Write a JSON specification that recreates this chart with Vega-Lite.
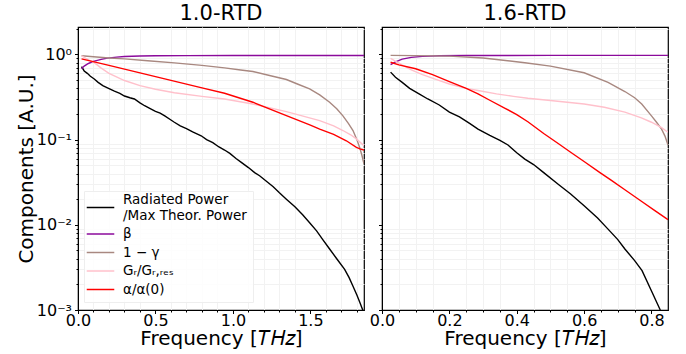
{
  "$schema": "https://vega.github.io/schema/vega-lite/v6.json",
  "padding": {"left": 15, "top": 2, "right": 5, "bottom": 0},
  "spacing": 18,
  "bounds": "flush",
  "datasets": {
    "d": [
      {"p":"L","s":"P","f":0.023,"v":0.72},{"p":"L","s":"P","f":0.04,"v":0.64},{"p":"L","s":"P","f":0.06,"v":0.6},{"p":"L","s":"P","f":0.08,"v":0.555},{"p":"L","s":"P","f":0.105,"v":0.515},{"p":"L","s":"P","f":0.13,"v":0.47},{"p":"L","s":"P","f":0.16,"v":0.43},{"p":"L","s":"P","f":0.19,"v":0.405},{"p":"L","s":"P","f":0.235,"v":0.37},{"p":"L","s":"P","f":0.27,"v":0.35},{"p":"L","s":"P","f":0.3,"v":0.325},{"p":"L","s":"P","f":0.335,"v":0.31},{"p":"L","s":"P","f":0.364,"v":0.3},{"p":"L","s":"P","f":0.4,"v":0.27},{"p":"L","s":"P","f":0.43,"v":0.25},{"p":"L","s":"P","f":0.46,"v":0.235},{"p":"L","s":"P","f":0.5,"v":0.215},{"p":"L","s":"P","f":0.53,"v":0.205},{"p":"L","s":"P","f":0.56,"v":0.19},{"p":"L","s":"P","f":0.6,"v":0.17},{"p":"L","s":"P","f":0.622,"v":0.16},{"p":"L","s":"P","f":0.66,"v":0.145},{"p":"L","s":"P","f":0.7,"v":0.135},{"p":"L","s":"P","f":0.74,"v":0.123},{"p":"L","s":"P","f":0.795,"v":0.111},{"p":"L","s":"P","f":0.83,"v":0.1},{"p":"L","s":"P","f":0.87,"v":0.092},{"p":"L","s":"P","f":0.91,"v":0.082},{"p":"L","s":"P","f":0.946,"v":0.0755},{"p":"L","s":"P","f":0.98,"v":0.069},{"p":"L","s":"P","f":1.02,"v":0.06},{"p":"L","s":"P","f":1.054,"v":0.054},{"p":"L","s":"P","f":1.1,"v":0.047},{"p":"L","s":"P","f":1.14,"v":0.041},{"p":"L","s":"P","f":1.172,"v":0.0377},{"p":"L","s":"P","f":1.22,"v":0.032},{"p":"L","s":"P","f":1.26,"v":0.028},{"p":"L","s":"P","f":1.3,"v":0.0238},{"p":"L","s":"P","f":1.345,"v":0.02},{"p":"L","s":"P","f":1.4,"v":0.0163},{"p":"L","s":"P","f":1.45,"v":0.0131},{"p":"L","s":"P","f":1.495,"v":0.0106},{"p":"L","s":"P","f":1.54,"v":0.0085},{"p":"L","s":"P","f":1.58,"v":0.0067},{"p":"L","s":"P","f":1.624,"v":0.0052},{"p":"L","s":"P","f":1.67,"v":0.004},{"p":"L","s":"P","f":1.721,"v":0.003},{"p":"L","s":"P","f":1.75,"v":0.0024},{"p":"L","s":"P","f":1.775,"v":0.0019},{"p":"L","s":"P","f":1.8,"v":0.0015},{"p":"L","s":"P","f":1.82,"v":0.00122},{"p":"L","s":"P","f":1.836,"v":0.00102},{"p":"L","s":"P","f":1.845,"v":0.00092},
      {"p":"L","s":"b","f":0.023,"v":0.68},{"p":"L","s":"b","f":0.04,"v":0.73},{"p":"L","s":"b","f":0.062,"v":0.776},{"p":"L","s":"b","f":0.085,"v":0.81},{"p":"L","s":"b","f":0.105,"v":0.835},{"p":"L","s":"b","f":0.15,"v":0.875},{"p":"L","s":"b","f":0.19,"v":0.905},{"p":"L","s":"b","f":0.25,"v":0.93},{"p":"L","s":"b","f":0.3,"v":0.945},{"p":"L","s":"b","f":0.4,"v":0.958},{"p":"L","s":"b","f":0.5,"v":0.965},{"p":"L","s":"b","f":0.7,"v":0.97},{"p":"L","s":"b","f":1.0,"v":0.972},{"p":"L","s":"b","f":1.5,"v":0.973},{"p":"L","s":"b","f":1.85,"v":0.973},
      {"p":"L","s":"g","f":0.023,"v":0.965},{"p":"L","s":"g","f":0.1,"v":0.94},{"p":"L","s":"g","f":0.2,"v":0.91},{"p":"L","s":"g","f":0.3,"v":0.887},{"p":"L","s":"g","f":0.45,"v":0.845},{"p":"L","s":"g","f":0.622,"v":0.796},{"p":"L","s":"g","f":0.8,"v":0.745},{"p":"L","s":"g","f":0.946,"v":0.695},{"p":"L","s":"g","f":1.05,"v":0.658},{"p":"L","s":"g","f":1.129,"v":0.63},{"p":"L","s":"g","f":1.25,"v":0.558},{"p":"L","s":"g","f":1.345,"v":0.508},{"p":"L","s":"g","f":1.42,"v":0.447},{"p":"L","s":"g","f":1.495,"v":0.394},{"p":"L","s":"g","f":1.56,"v":0.335},{"p":"L","s":"g","f":1.624,"v":0.275},{"p":"L","s":"g","f":1.67,"v":0.23},{"p":"L","s":"g","f":1.71,"v":0.19},{"p":"L","s":"g","f":1.745,"v":0.155},{"p":"L","s":"g","f":1.775,"v":0.128},{"p":"L","s":"g","f":1.8,"v":0.1},{"p":"L","s":"g","f":1.818,"v":0.081},{"p":"L","s":"g","f":1.832,"v":0.066},{"p":"L","s":"g","f":1.846,"v":0.052},
      {"p":"L","s":"G","f":0.023,"v":0.965},{"p":"L","s":"G","f":0.05,"v":0.9},{"p":"L","s":"G","f":0.075,"v":0.85},{"p":"L","s":"G","f":0.105,"v":0.8},{"p":"L","s":"G","f":0.15,"v":0.69},{"p":"L","s":"G","f":0.2,"v":0.6},{"p":"L","s":"G","f":0.3,"v":0.494},{"p":"L","s":"G","f":0.4,"v":0.43},{"p":"L","s":"G","f":0.5,"v":0.39},{"p":"L","s":"G","f":0.622,"v":0.355},{"p":"L","s":"G","f":0.8,"v":0.322},{"p":"L","s":"G","f":0.946,"v":0.3},{"p":"L","s":"G","f":1.129,"v":0.262},{"p":"L","s":"G","f":1.345,"v":0.213},{"p":"L","s":"G","f":1.56,"v":0.167},{"p":"L","s":"G","f":1.65,"v":0.145},{"p":"L","s":"G","f":1.71,"v":0.128},{"p":"L","s":"G","f":1.76,"v":0.114},{"p":"L","s":"G","f":1.797,"v":0.102},{"p":"L","s":"G","f":1.846,"v":0.085},
      {"p":"L","s":"a","f":0.023,"v":0.887},{"p":"L","s":"a","f":0.2,"v":0.743},{"p":"L","s":"a","f":0.4,"v":0.607},{"p":"L","s":"a","f":0.6,"v":0.496},{"p":"L","s":"a","f":0.8,"v":0.405},{"p":"L","s":"a","f":0.946,"v":0.35},{"p":"L","s":"a","f":1.129,"v":0.275},{"p":"L","s":"a","f":1.345,"v":0.191},{"p":"L","s":"a","f":1.5,"v":0.148},{"p":"L","s":"a","f":1.56,"v":0.133},{"p":"L","s":"a","f":1.65,"v":0.115},{"p":"L","s":"a","f":1.732,"v":0.097},{"p":"L","s":"a","f":1.797,"v":0.081},{"p":"L","s":"a","f":1.82,"v":0.078},{"p":"L","s":"a","f":1.846,"v":0.0755},
      {"p":"R","s":"P","f":0.0255,"v":0.62},{"p":"R","s":"P","f":0.04,"v":0.54},{"p":"R","s":"P","f":0.06,"v":0.47},{"p":"R","s":"P","f":0.082,"v":0.4},{"p":"R","s":"P","f":0.11,"v":0.345},{"p":"R","s":"P","f":0.136,"v":0.3},{"p":"R","s":"P","f":0.17,"v":0.255},{"p":"R","s":"P","f":0.2,"v":0.21},{"p":"R","s":"P","f":0.23,"v":0.185},{"p":"R","s":"P","f":0.26,"v":0.155},{"p":"R","s":"P","f":0.285,"v":0.133},{"p":"R","s":"P","f":0.32,"v":0.112},{"p":"R","s":"P","f":0.35,"v":0.098},{"p":"R","s":"P","f":0.374,"v":0.0865},{"p":"R","s":"P","f":0.4,"v":0.07},{"p":"R","s":"P","f":0.424,"v":0.059},{"p":"R","s":"P","f":0.45,"v":0.051},{"p":"R","s":"P","f":0.48,"v":0.041},{"p":"R","s":"P","f":0.523,"v":0.03},{"p":"R","s":"P","f":0.56,"v":0.023},{"p":"R","s":"P","f":0.6,"v":0.0167},{"p":"R","s":"P","f":0.64,"v":0.012},{"p":"R","s":"P","f":0.671,"v":0.0089},{"p":"R","s":"P","f":0.7,"v":0.0067},{"p":"R","s":"P","f":0.721,"v":0.0052},{"p":"R","s":"P","f":0.75,"v":0.0038},{"p":"R","s":"P","f":0.772,"v":0.0029},{"p":"R","s":"P","f":0.8,"v":0.00167},{"p":"R","s":"P","f":0.825,"v":0.00102},{"p":"R","s":"P","f":0.835,"v":0.00085},
      {"p":"R","s":"b","f":0.0255,"v":0.76},{"p":"R","s":"b","f":0.04,"v":0.82},{"p":"R","s":"b","f":0.06,"v":0.88},{"p":"R","s":"b","f":0.087,"v":0.925},{"p":"R","s":"b","f":0.12,"v":0.95},{"p":"R","s":"b","f":0.17,"v":0.965},{"p":"R","s":"b","f":0.25,"v":0.972},{"p":"R","s":"b","f":0.5,"v":0.975},{"p":"R","s":"b","f":0.849,"v":0.975},
      {"p":"R","s":"g","f":0.0255,"v":0.975},{"p":"R","s":"g","f":0.1,"v":0.97},{"p":"R","s":"g","f":0.2,"v":0.955},{"p":"R","s":"g","f":0.3,"v":0.91},{"p":"R","s":"g","f":0.424,"v":0.8},{"p":"R","s":"g","f":0.5,"v":0.73},{"p":"R","s":"g","f":0.6,"v":0.61},{"p":"R","s":"g","f":0.671,"v":0.47},{"p":"R","s":"g","f":0.721,"v":0.367},{"p":"R","s":"g","f":0.75,"v":0.31},{"p":"R","s":"g","f":0.771,"v":0.262},{"p":"R","s":"g","f":0.8,"v":0.19},{"p":"R","s":"g","f":0.815,"v":0.16},{"p":"R","s":"g","f":0.83,"v":0.133},{"p":"R","s":"g","f":0.84,"v":0.11},{"p":"R","s":"g","f":0.849,"v":0.0865},
      {"p":"R","s":"G","f":0.0255,"v":0.9},{"p":"R","s":"G","f":0.05,"v":0.79},{"p":"R","s":"G","f":0.087,"v":0.66},{"p":"R","s":"G","f":0.12,"v":0.58},{"p":"R","s":"G","f":0.16,"v":0.51},{"p":"R","s":"G","f":0.2,"v":0.45},{"p":"R","s":"G","f":0.25,"v":0.4},{"p":"R","s":"G","f":0.285,"v":0.377},{"p":"R","s":"G","f":0.34,"v":0.345},{"p":"R","s":"G","f":0.39,"v":0.322},{"p":"R","s":"G","f":0.433,"v":0.306},{"p":"R","s":"G","f":0.5,"v":0.288},{"p":"R","s":"G","f":0.6,"v":0.262},{"p":"R","s":"G","f":0.66,"v":0.24},{"p":"R","s":"G","f":0.721,"v":0.21},{"p":"R","s":"G","f":0.77,"v":0.18},{"p":"R","s":"G","f":0.8,"v":0.16},{"p":"R","s":"G","f":0.83,"v":0.138},{"p":"R","s":"G","f":0.849,"v":0.122},
      {"p":"R","s":"a","f":0.0255,"v":0.81},{"p":"R","s":"a","f":0.05,"v":0.755},{"p":"R","s":"a","f":0.1,"v":0.68},{"p":"R","s":"a","f":0.15,"v":0.58},{"p":"R","s":"a","f":0.2,"v":0.48},{"p":"R","s":"a","f":0.25,"v":0.4},{"p":"R","s":"a","f":0.285,"v":0.345},{"p":"R","s":"a","f":0.32,"v":0.29},{"p":"R","s":"a","f":0.364,"v":0.235},{"p":"R","s":"a","f":0.4,"v":0.197},{"p":"R","s":"a","f":0.433,"v":0.162},{"p":"R","s":"a","f":0.48,"v":0.118},{"p":"R","s":"a","f":0.523,"v":0.09},{"p":"R","s":"a","f":0.56,"v":0.071},{"p":"R","s":"a","f":0.602,"v":0.0546},{"p":"R","s":"a","f":0.647,"v":0.041},{"p":"R","s":"a","f":0.68,"v":0.0334},{"p":"R","s":"a","f":0.721,"v":0.0258},{"p":"R","s":"a","f":0.77,"v":0.0189},{"p":"R","s":"a","f":0.81,"v":0.0147},{"p":"R","s":"a","f":0.849,"v":0.0115}
    ]
  },
  "hconcat": [
    {
      "width": 286,
      "height": 283,
      "title": "1.0-RTD",
      "data": {"name": "d"},
      "transform": [{"filter": "datum.p == 'L'"}],
      "layer": [
        {
          "mark": {"type": "point", "opacity": 0},
          "encoding": {
            "x": {"field": "f", "type": "quantitative", "scale": {"domain": [0, 1.846], "nice": false, "zero": false},
                  "axis": {"orient": "bottom", "values": [0.1,0.2,0.3,0.4,0.6,0.7,0.8,0.9,1.1,1.2,1.3,1.4,1.6,1.7,1.8], "labels": false, "title": null, "domain": false, "tickSize": 2, "gridColor": "#f2f2f2", "gridDash": []}},
            "y": {"field": "v", "type": "quantitative", "scale": {"type": "log", "domain": [0.001, 2.1], "nice": false},
                  "axis": {"orient": "left", "values": [0.002,0.003,0.004,0.005,0.006,0.007,0.008,0.009,0.02,0.03,0.04,0.05,0.06,0.07,0.08,0.09,0.2,0.3,0.4,0.5,0.6,0.7,0.8,0.9,2], "labels": false, "title": null, "domain": false, "tickSize": 2, "gridColor": "#f2f2f2", "gridDash": []}}
          }
        },
        {
          "mark": {"type": "line", "strokeWidth": 1.4, "clip": true},
          "encoding": {
            "x": {"field": "f", "type": "quantitative",
                  "axis": {"orient": "bottom", "values": [0, 0.5, 1, 1.5], "format": ".1f", "title": "Frequency [𝑇𝐻𝑧]", "tickSize": 3.5, "labelPadding": -1, "titlePadding": 0}},
            "y": {"field": "v", "type": "quantitative",
                  "axis": {"orient": "left", "values": [0.001, 0.01, 0.1, 1], "tickSize": 3.5, "labelPadding": 3, "title": "Components [A.U.]", "titlePadding": 0,
                           "labelExpr": "datum.value >= 0.5 ? '10⁰' : datum.value >= 0.05 ? '10⁻¹' : datum.value >= 0.005 ? '10⁻²' : '10⁻³'"}},
            "color": {"field": "s", "type": "nominal",
                      "scale": {"domain": ["P", "b", "g", "G", "a"], "range": ["#000000", "#8b0a9b", "#a88880", "#ffc0cb", "#ff0000"]},
                      "legend": {"orient": "none", "legendX": 6, "legendY": 164, "title": null,
                                 "labelExpr": "datum.label == 'P' ? ['Radiated Power', '/Max Theor. Power'] : datum.label == 'b' ? 'β' : datum.label == 'g' ? '1 − γ' : datum.label == 'G' ? 'Gᵣ/Gᵣ,ᵣₑₛ' : 'α/α(0)'",
                                 "encode": {"labels": {"update": {"dy": {"signal": "datum.value === 'P' ? -7.5 : 0"}}}}}}
          }
        }
      ],
      "resolve": {"axis": {"x": "independent", "y": "independent"}}
    },
    {
      "width": 286,
      "height": 283,
      "title": "1.6-RTD",
      "data": {"name": "d"},
      "transform": [{"filter": "datum.p == 'R'"}],
      "layer": [
        {
          "mark": {"type": "point", "opacity": 0},
          "encoding": {
            "x": {"field": "f", "type": "quantitative", "scale": {"domain": [0, 0.849], "nice": false, "zero": false},
                  "axis": {"orient": "bottom", "values": [0.05,0.1,0.15,0.25,0.3,0.35,0.45,0.5,0.55,0.65,0.7,0.75,0.85], "labels": false, "title": null, "domain": false, "tickSize": 2, "gridColor": "#f2f2f2", "gridDash": []}},
            "y": {"field": "v", "type": "quantitative", "scale": {"type": "log", "domain": [0.001, 2.1], "nice": false},
                  "axis": {"orient": "left", "values": [0.002,0.003,0.004,0.005,0.006,0.007,0.008,0.009,0.02,0.03,0.04,0.05,0.06,0.07,0.08,0.09,0.2,0.3,0.4,0.5,0.6,0.7,0.8,0.9,2], "labels": false, "title": null, "domain": false, "tickSize": 2, "gridColor": "#f2f2f2", "gridDash": []}}
          }
        },
        {
          "mark": {"type": "line", "strokeWidth": 1.4, "clip": true},
          "encoding": {
            "x": {"field": "f", "type": "quantitative",
                  "axis": {"orient": "bottom", "values": [0, 0.2, 0.4, 0.6, 0.8], "format": ".1f", "title": "Frequency [𝑇𝐻𝑧]", "tickSize": 3.5, "labelPadding": -1, "titlePadding": 0}},
            "y": {"field": "v", "type": "quantitative",
                  "axis": {"orient": "left", "values": [0.001, 0.01, 0.1, 1], "tickSize": 3.5, "labels": false, "title": null}},
            "color": {"field": "s", "type": "nominal",
                      "scale": {"domain": ["P", "b", "g", "G", "a"], "range": ["#000000", "#8b0a9b", "#a88880", "#ffc0cb", "#ff0000"]},
                      "legend": null}
          }
        }
      ],
      "resolve": {"axis": {"x": "independent", "y": "independent"}}
    }
  ],
  "config": {
    "font": "DejaVu Sans",
    "view": {"stroke": "#000000", "strokeWidth": 1.2},
    "title": {"font": "DejaVu Sans", "fontSize": 21, "fontWeight": "normal", "color": "#000000", "offset": 3},
    "axis": {"labelFont": "DejaVu Sans", "labelFontSize": 16, "labelColor": "#000000", "labelPadding": 1,
             "titleFont": "DejaVu Sans", "titleFontSize": 20, "titleFontWeight": "normal", "titleColor": "#000000", "titlePadding": 1,
             "domainColor": "#000000", "tickColor": "#000000", "gridColor": "#d4d4d4", "gridDash": [3, 2], "labelFlush": false},
    "legend": {"labelFont": "DejaVu Sans", "labelFontSize": 13.5, "labelColor": "#000000", "symbolType": "M-1.45,0H1.45",
               "symbolSize": 361, "symbolStrokeWidth": 1.5, "padding": 6, "rowPadding": 1.5, "labelOffset": 12,
               "fillColor": "rgba(255,255,255,0.85)", "strokeColor": "#eeeeee", "labelLimit": 300}
  }
}
